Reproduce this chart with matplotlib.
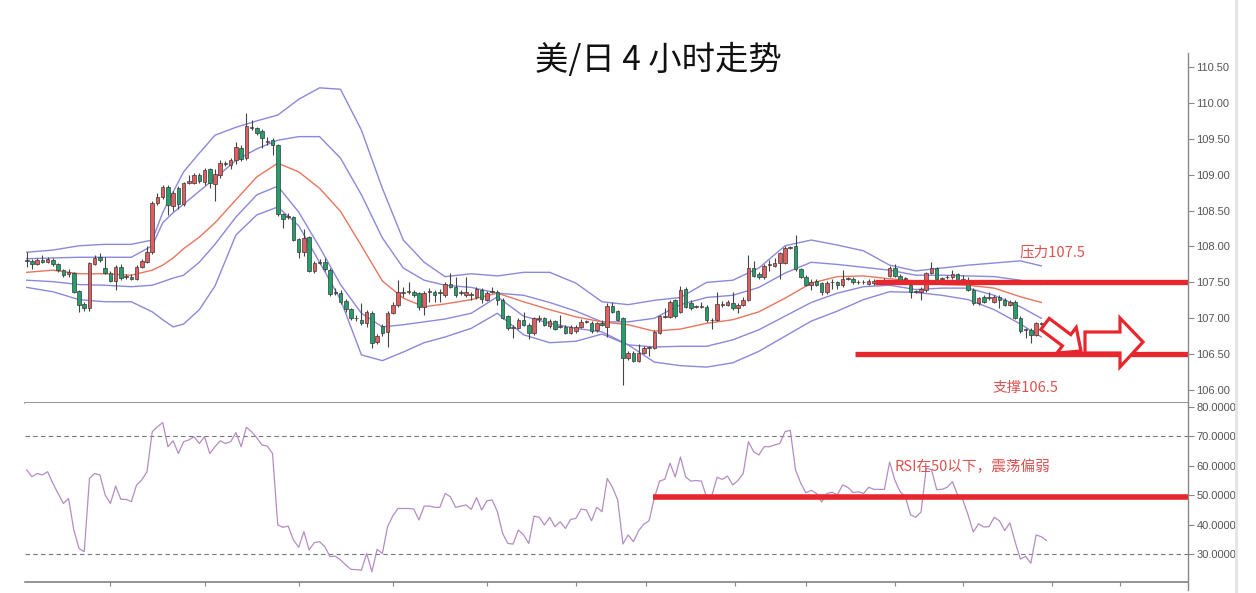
import matplotlib
matplotlib.use('Agg')
import matplotlib.pyplot as plt
import numpy as np
from matplotlib.patches import Polygon, Rectangle
from matplotlib.lines import Line2D

plt.rcParams['font.family'] = ['Noto Sans CJK SC', 'DejaVu Sans']

# ---------------- data ----------------
title = '美/日 4 小时走势'

opens = [107.80,107.80,107.76,107.81,107.79,107.81,107.75,107.67,107.62,107.63,
         107.38,107.20,107.14,107.76,107.86,107.70,107.63,107.52,107.72,107.58,
         107.58,107.55,107.72,107.79,107.92,108.60,108.69,108.83,108.56,108.81,
         108.59,108.89,108.89,109.00,108.90,109.08,108.87,109.00,109.15,109.13,
         109.20,109.37,109.23,109.67,109.65,109.61,109.46,109.48,109.41,108.45,
         108.41,108.41,108.10,107.92,108.13,107.66,107.77,107.78,107.67,107.35,
         107.35,107.24,107.13,107.01,106.98,106.94,107.08,106.67,106.89,106.81,
         107.08,107.19,107.35,107.37,107.37,107.35,107.16,107.37,107.36,107.37,
         107.33,107.48,107.44,107.35,107.33,107.33,107.30,107.39,107.26,107.37,
         107.37,107.26,107.03,106.87,106.87,106.98,106.91,106.80,106.99,107.00,
         106.89,106.96,106.88,106.88,106.80,106.82,106.88,106.95,106.94,106.83,
         106.94,106.88,107.17,107.10,107.00,106.44,106.52,106.41,106.52,106.59,
         106.59,106.80,107.02,107.02,107.25,107.09,107.41,107.21,107.16,107.16,
         107.16,106.97,106.98,107.19,107.19,107.21,107.14,107.19,107.26,107.70,
         107.61,107.57,107.74,107.73,107.77,107.77,107.98,108.00,107.68,107.58,
         107.47,107.52,107.49,107.36,107.50,107.50,107.46,107.55,107.55,107.50,
         107.50,107.48,107.49,107.50,107.52,107.59,107.70,107.59,107.55,107.46,
         107.37,107.37,107.39,107.63,107.70,107.55,107.57,107.57,107.61,107.54,
         107.48,107.40,107.21,107.30,107.28,107.23,107.30,107.26,107.19,107.23,
         107.01,106.84,106.84,106.77,106.92]

closes = [107.81,107.76,107.81,107.79,107.83,107.75,107.67,107.60,107.64,107.37,
          107.19,107.14,107.77,107.84,107.81,107.63,107.52,107.72,107.56,107.59,
          107.55,107.72,107.80,107.92,108.61,108.69,108.83,108.58,108.74,108.59,
          108.88,108.91,108.99,108.91,109.07,108.88,109.01,109.16,109.16,109.20,
          109.39,109.22,109.68,109.65,109.58,109.51,109.47,109.41,108.45,108.38,
          108.43,108.09,107.92,108.12,107.66,107.77,107.78,107.69,107.34,107.36,
          107.23,107.13,107.01,107.00,106.94,107.09,106.66,106.75,106.80,107.08,
          107.19,107.36,107.36,107.38,107.33,107.16,107.35,107.38,107.33,107.35,
          107.48,107.44,107.33,107.36,107.36,107.34,107.41,107.27,107.35,107.38,
          107.26,107.01,106.87,106.88,106.97,106.91,106.80,107.00,107.00,106.91,
          106.96,106.85,106.89,106.80,106.88,106.88,106.95,106.96,106.82,106.93,
          106.91,107.17,107.09,106.98,106.44,106.52,106.41,106.52,106.59,106.60,
          106.81,107.03,107.03,107.23,107.03,107.40,107.16,107.14,107.17,107.17,
          106.97,106.98,107.20,107.20,107.23,107.14,107.18,107.26,107.70,107.59,
          107.57,107.73,107.75,107.77,107.91,107.98,107.99,107.68,107.58,107.47,
          107.51,107.47,107.36,107.49,107.51,107.47,107.55,107.56,107.50,107.51,
          107.51,107.52,107.52,107.51,107.53,107.70,107.59,107.54,107.56,107.37,
          107.38,107.41,107.63,107.70,107.55,107.56,107.58,107.62,107.54,107.55,
          107.40,107.21,107.28,107.23,107.29,107.30,107.26,107.19,107.23,107.01,
          106.82,106.85,106.77,106.93,106.93]

highs = [107.93,107.83,107.84,107.88,107.86,107.84,107.77,107.69,107.68,107.65,
         107.40,107.23,107.79,107.88,107.91,107.86,107.66,107.74,107.76,107.61,
         107.62,107.74,107.83,108.00,108.63,108.75,108.86,108.85,108.77,108.84,
         108.90,108.99,109.02,109.03,109.09,109.10,109.08,109.20,109.19,109.23,
         109.45,109.42,109.86,109.76,109.67,109.64,109.53,109.51,109.43,108.47,
         108.46,108.43,108.12,108.24,108.15,107.80,107.82,107.84,107.70,107.42,
         107.40,107.27,107.15,107.05,107.21,107.12,107.10,106.78,106.92,107.10,
         107.22,107.54,107.43,107.50,107.40,107.37,107.38,107.42,107.39,107.41,
         107.50,107.63,107.58,107.39,107.58,107.37,107.44,107.42,107.38,107.44,
         107.40,107.28,107.05,106.91,107.00,107.09,106.93,107.02,107.05,107.02,
         106.99,106.98,107.05,106.90,106.90,106.90,106.99,106.98,106.96,106.95,
         106.98,107.21,107.22,107.12,107.02,106.54,106.54,106.64,106.62,106.62,
         106.83,107.05,107.15,107.26,107.27,107.45,107.43,107.25,107.19,107.23,
         107.18,107.00,107.36,107.24,107.26,107.37,107.21,107.29,107.88,107.80,
         107.64,107.76,107.81,107.84,107.93,108.00,108.01,108.16,107.70,107.60,
         107.55,107.55,107.51,107.52,107.55,107.52,107.67,107.58,107.57,107.53,
         107.53,107.55,107.55,107.53,107.56,107.73,107.75,107.61,107.58,107.48,
         107.40,107.43,107.65,107.78,107.72,107.58,107.60,107.67,107.63,107.60,
         107.58,107.42,107.30,107.32,107.37,107.32,107.32,107.28,107.25,107.25,
         107.03,106.87,106.86,106.95,106.95]

lows = [107.72,107.68,107.74,107.77,107.77,107.73,107.64,107.58,107.58,107.35,
        107.09,107.10,107.10,107.74,107.79,107.61,107.50,107.39,107.53,107.55,
        107.53,107.53,107.70,107.77,107.90,108.58,108.66,108.44,108.50,108.52,
        108.56,108.87,108.87,108.88,108.86,108.82,108.64,108.96,109.12,109.08,
        109.15,109.19,109.21,109.62,109.55,109.37,109.41,109.27,108.43,108.26,
        108.38,108.07,107.84,107.87,107.64,107.63,107.75,107.66,107.31,107.32,
        107.20,107.09,106.98,106.96,106.91,106.88,106.59,106.64,106.76,106.60,
        107.06,107.16,107.30,107.34,107.30,107.12,107.04,107.22,107.22,107.22,
        107.30,107.42,107.30,107.32,107.30,107.25,107.27,107.21,107.24,107.35,
        107.19,106.99,106.84,106.73,106.85,106.89,106.71,106.77,106.95,106.89,
        106.87,106.83,106.86,106.78,106.78,106.80,106.86,106.93,106.80,106.81,
        106.89,106.74,107.07,106.96,106.07,106.42,106.39,106.39,106.50,106.47,
        106.57,106.78,107.00,107.00,107.01,107.07,107.14,107.12,107.14,107.14,
        106.95,106.85,106.96,107.16,107.17,107.12,107.07,107.17,107.24,107.57,
        107.55,107.55,107.66,107.71,107.55,107.75,107.96,107.66,107.56,107.45,
        107.40,107.45,107.33,107.34,107.41,107.41,107.44,107.53,107.48,107.48,
        107.48,107.46,107.47,107.48,107.50,107.57,107.57,107.52,107.50,107.28,
        107.35,107.26,107.37,107.61,107.53,107.53,107.55,107.55,107.52,107.52,
        107.38,107.19,107.19,107.21,107.26,107.21,107.14,107.17,107.17,106.99,
        106.80,106.72,106.66,106.75,106.90]

# band readings (candle index where read, and price)
band_idx = [0,5,10,15,20,24,26,28,30,33,36,40,44,48,52,56,60,64,68,72,76,80,85,
            90,95,100,105,110,115,120,125,130,135,140,145,150,155,160,165,170,
            175,180,185,190,194]
band_outer_up = [107.92,107.95,108.01,108.03,108.03,108.09,108.47,108.76,109.04,
                 109.30,109.55,109.66,109.75,109.83,110.05,110.21,110.19,109.62,
                 108.81,108.09,107.78,107.58,107.62,107.59,107.64,107.64,107.49,
                 107.23,107.19,107.25,107.29,107.50,107.53,107.70,108.01,108.09,
                 108.02,107.94,107.74,107.66,107.70,107.74,107.77,107.80,107.73]
band_inner_up = [107.83,107.84,107.85,107.85,107.85,108.01,108.33,108.47,108.59,
                 108.77,108.95,109.20,109.36,109.48,109.53,109.53,109.23,108.72,
                 108.12,107.70,107.53,107.46,107.43,107.35,107.32,107.22,107.10,
                 106.95,106.95,107.00,107.19,107.29,107.32,107.43,107.63,107.78,
                 107.75,107.71,107.67,107.60,107.60,107.59,107.58,107.53,107.47]
band_mid = [107.64,107.67,107.62,107.62,107.60,107.67,107.74,107.84,107.97,108.13,
            108.33,108.65,108.97,109.16,109.04,108.81,108.49,108.01,107.52,107.28,
            107.16,107.20,107.26,107.35,107.23,107.12,107.02,106.95,106.91,106.82,
            106.85,106.93,106.98,107.09,107.28,107.49,107.58,107.59,107.55,107.52,
            107.47,107.46,107.42,107.30,107.22]
band_inner_low = [107.53,107.51,107.47,107.46,107.44,107.46,107.51,107.56,107.60,
                  107.78,108.03,108.41,108.72,108.84,108.48,107.99,107.47,107.07,
                  106.88,106.91,106.95,106.99,107.07,107.30,107.03,106.93,106.86,
                  106.81,106.63,106.60,106.61,106.61,106.70,106.84,107.03,107.22,
                  107.35,107.44,107.46,107.40,107.42,107.42,107.32,107.16,107.00]
band_outer_low = [107.43,107.37,107.26,107.23,107.23,107.09,106.98,106.88,106.92,
                  107.12,107.45,108.16,108.44,108.55,108.29,107.78,107.26,106.49,
                  106.41,106.53,106.66,106.74,106.86,107.07,106.77,106.66,106.68,
                  106.78,106.63,106.39,106.34,106.32,106.38,106.54,106.75,106.96,
                  107.10,107.26,107.37,107.36,107.32,107.26,107.12,106.92,106.74]

rsi = [58.6,56.3,57.4,56.9,58.0,54.0,50.6,47.2,48.9,38.2,
       31.9,30.8,55.7,57.4,56.9,50.1,47.2,53.1,48.6,48.6,
       47.8,53.5,55.2,58.0,71.6,73.3,74.7,66.5,68.5,64.2,
       68.2,68.8,69.9,67.6,69.9,64.2,66.5,68.5,67.6,68.2,
       71.3,66.5,73.1,71.6,69.5,67.1,66.7,64.2,39.9,39.1,
       39.5,34.8,32.3,37.6,31.4,33.9,34.2,32.5,29.1,29.3,
       28.0,26.3,24.8,24.7,24.5,30.2,24.0,31.6,30.2,39.3,
       43.0,45.5,45.5,45.5,45.3,41.6,46.3,46.3,45.9,45.9,
       50.6,49.5,45.9,46.3,46.7,45.2,49.2,45.0,48.1,48.4,
       44.4,37.0,33.6,33.4,38.2,36.5,33.6,42.9,42.5,39.9,
       42.5,39.3,41.0,38.7,41.8,42.1,45.3,45.0,41.3,45.9,
       44.4,55.7,52.7,48.4,33.4,36.5,34.2,37.9,40.2,41.3,
       49.0,54.8,55.4,60.9,56.2,63.0,56.2,54.8,55.0,54.8,
       49.4,49.9,56.1,55.4,56.5,53.5,55.0,57.4,68.2,64.8,
       63.7,66.5,66.5,67.1,67.6,71.6,72.1,58.6,54.1,50.8,
       51.7,50.6,47.7,50.6,51.0,50.1,53.5,52.7,50.9,51.2,
       50.6,52.7,52.0,52.0,52.0,61.3,55.1,51.2,49.5,43.3,
       42.5,44.3,59.2,58.7,51.9,52.0,52.7,54.6,50.1,48.4,
       43.3,37.5,40.3,39.2,39.3,42.5,41.3,38.0,40.6,34.1,
       28.3,29.2,26.9,36.5,35.9,34.6]

resistance = 107.5
support = 106.5
rsi_mid_level = 49.5
rsi_levels = [70, 30]
price_ticks = [106.0, 106.5, 107.0, 107.5, 108.0, 108.5, 109.0, 109.5, 110.0, 110.5]
rsi_ticks = [30, 40, 50, 60, 70, 80]
time_ticks = [16, 34, 52, 70, 88, 105, 118.5, 135.5, 149, 166, 179, 196, 209]
label_res = '压力107.5'
label_sup = '支撑106.5'
label_rsi = 'RSI在50以下，震荡偏弱'

# ---------------- layout ----------------
W, H = 1256, 593
fig = plt.figure(figsize=(W / 100, H / 100), dpi=100)
fig.patch.set_facecolor('white')

def fx(px):
    return px / W

def fy(py):
    return 1 - py / H

L, R = 25, 1188
ax = fig.add_axes([fx(L), fy(403), fx(R) - fx(L), fy(53) - fy(403)])
ax2 = fig.add_axes([fx(L), fy(581.7), fx(R) - fx(L), fy(403) - fy(581.7)], sharex=ax)

xlim = (-0.33, 222.05)
ax.set_xlim(*xlim)
ax.set_ylim(105.82, 110.695)
ax2.set_ylim(20.6, 81.36)

RED = '#e25d5d'
GREEN = '#22a06b'
EDGE = '#3a3a3a'
BAND = '#8c88da'
MID = '#e8765e'
LINE_RED = '#e8262d'
TXT_RED = '#d9534f'

# bands
for vals in (band_outer_up, band_inner_up, band_inner_low, band_outer_low):
    ax.plot(band_idx, vals, color=BAND, lw=1.0, zorder=1)
ax.plot(band_idx, band_mid, color=MID, lw=1.0, zorder=1)

# candles
bw = 0.68
for i, (o, c, h, l) in enumerate(zip(opens, closes, highs, lows)):
    col = RED if c >= o else GREEN
    ax.vlines(i, l, h, color='#444444', lw=0.8, zorder=2)
    lo = min(o, c)
    ht = max(abs(c - o), 0.004)
    ax.add_patch(Rectangle((i - bw / 2, lo), bw, ht, facecolor=col,
                           edgecolor=EDGE, lw=0.5, zorder=3))

# support / resistance lines
ax.hlines(resistance, 162.2, xlim[1], color=LINE_RED, lw=3.8, zorder=4)
ax.hlines(support, 158.4, xlim[1], color=LINE_RED, lw=3.8, zorder=4)

# RSI panel
ax2.plot(np.arange(len(rsi)), rsi, color='#b48cc4', lw=0.9, zorder=2)
for lv in rsi_levels:
    ax2.axhline(lv, color='#777777', lw=0.8, ls=(0, (4, 3)), zorder=1)
ax2.hlines(rsi_mid_level, 119.7, xlim[1], color=LINE_RED, lw=4.0, zorder=3)

# axes styling
for a in (ax, ax2):
    for s in ('top', 'left', 'right'):
        a.spines[s].set_visible(False)
    a.spines['bottom'].set_color('#777777')
    a.spines['bottom'].set_linewidth(1.1)
    a.yaxis.tick_right()
    a.tick_params(axis='y', direction='out', length=4, width=0.8, color='#888888',
                  labelsize=8, labelcolor='#555555', pad=2)

ax.set_yticks(price_ticks)
ax.set_yticklabels([f'{v:.2f}' for v in price_ticks])
ax.tick_params(axis='x', bottom=False, labelbottom=False)
ax2.set_yticks(rsi_ticks)
ax2.set_yticklabels([f'{v:.4f}' for v in rsi_ticks])
ax2.set_xticks(time_ticks)
ax2.tick_params(axis='x', direction='out', length=3, width=0.8, color='#888888',
                labelbottom=False)
for a in (ax, ax2):
    for lab in a.get_yticklabels():
        lab.set_fontfamily('Liberation Sans')

# overlay in pixel coordinates for decorations
ov = fig.add_axes([0, 0, 1, 1], zorder=10)
ov.set_xlim(0, W)
ov.set_ylim(H, 0)
ov.axis('off')
ov.patch.set_alpha(0)

ov.add_line(Line2D([R, R], [53, 590], color='#888888', lw=1.0))
ov.add_line(Line2D([1236, 1236], [0, 593], color='#e4e4e4', lw=2.0))

ov.text(658, 61, title, ha='center', va='center', fontsize=24, color='#111111')
ov.text(1020, 252, label_res, ha='left', va='center', fontsize=10.5, color=TXT_RED)
ov.text(992, 388, label_sup, ha='left', va='center', fontsize=10.5, color=TXT_RED)
ov.text(895, 467, label_rsi, ha='left', va='center', fontsize=10.5, color=TXT_RED)

# hollow arrows
right_arrow = [(1085, 332), (1120, 332), (1120, 318), (1143, 342),
               (1120, 367), (1120, 353), (1085, 353)]
ov.add_patch(Polygon(right_arrow, closed=True, facecolor='white',
                     edgecolor=LINE_RED, lw=2.3, joinstyle='miter'))
tail = np.array([1045.0, 324.0])
tip = np.array([1081.0, 351.0])
d = (tip - tail) / np.linalg.norm(tip - tail)
n = np.array([-d[1], d[0]])
base = tip - d * 18
diag = [tail - n * 7, base - n * 7, base - n * 16, tip,
        base + n * 16, base + n * 7, tail + n * 7]
ov.add_patch(Polygon(diag, closed=True, facecolor='white',
                     edgecolor=LINE_RED, lw=2.3, joinstyle='miter'))

fig.savefig('out.png', dpi=100, facecolor='white')
